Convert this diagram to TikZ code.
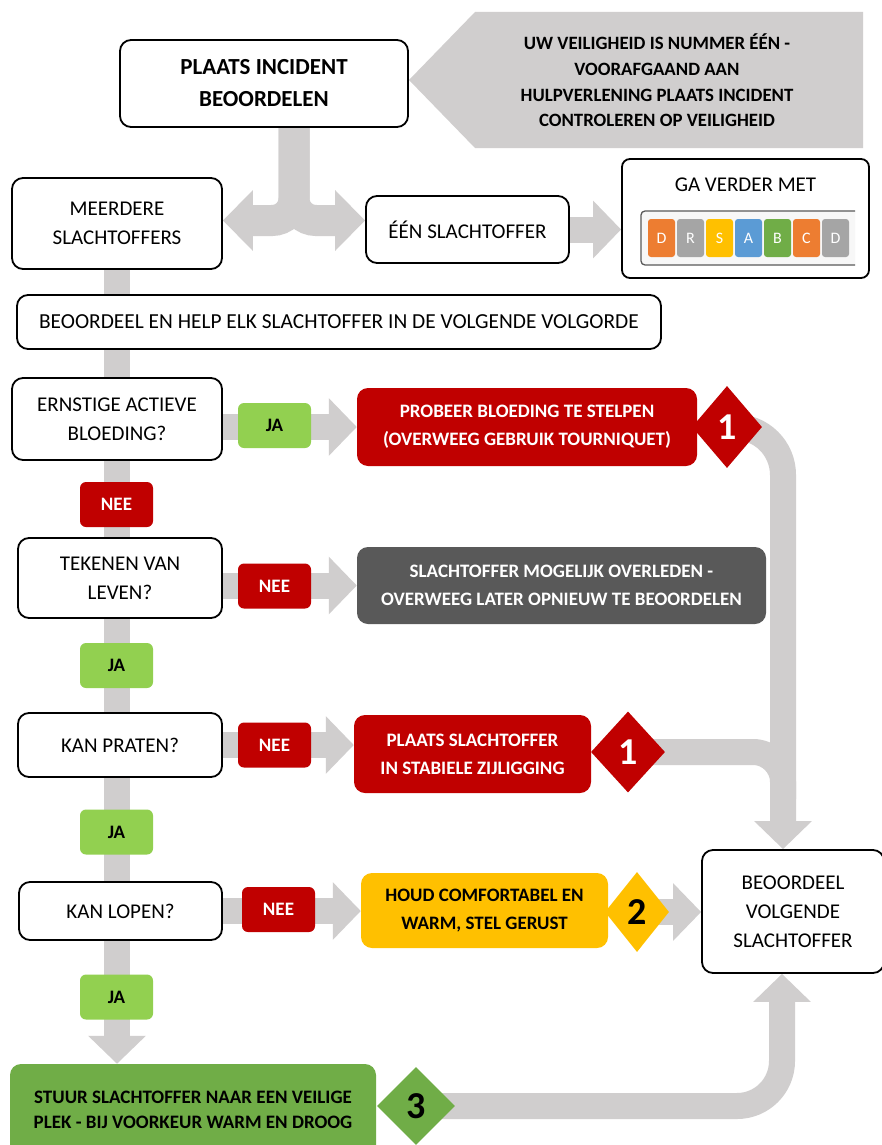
\documentclass[tikz,border=0pt]{standalone}
\usepackage{fontspec}
\setmainfont{Carlito}
\usetikzlibrary{shapes.geometric,arrows.meta,backgrounds,calc}
\definecolor{conncol}{RGB}{208,206,206}
\definecolor{cred}{RGB}{192,0,0}
\definecolor{cjagreen}{RGB}{146,208,80}
\definecolor{cdark}{RGB}{89,89,89}
\definecolor{cye}{RGB}{255,192,0}
\definecolor{cgn}{RGB}{112,173,71}
\definecolor{cor}{RGB}{237,125,49}
\definecolor{cgr}{RGB}{165,165,165}
\definecolor{cbl}{RGB}{91,155,213}
\newcommand\fnreg{\fontsize{21}{29}\selectfont}
\newcommand\fnbld{\fontsize{19}{28}\selectfont\bfseries}
\newcommand\fnttl{\fontsize{23}{32}\selectfont\bfseries}
\newcommand\fnnum{\fontsize{38}{40}\selectfont\bfseries}
\newcommand\fnwrn{\fontsize{18.8}{25.7}\selectfont\bfseries}
\newcommand\fntile{\fontsize{16}{18}\selectfont}
\begin{document}
\begin{tikzpicture}[x=1pt,y=-1pt,
  box/.style={draw=black,line width=1.8pt,rounded corners=11pt,fill=white,align=center,inner sep=0pt,font=\fnreg},
  act/.style={rounded corners=11pt,align=center,inner sep=0pt,font=\fnbld},
  badge/.style={rounded corners=6pt,minimum width=73pt,minimum height=45pt,inner sep=0pt,font=\fnbld},
  dia/.style={diamond,inner sep=0pt,minimum width=70pt,minimum height=82pt,font=\fnnum},
  conn/.style={draw=conncol,line width=26pt},
  arrowed/.style={-{Triangle[width=56pt,length=28pt]}},
  bigarrowed/.style={-{Triangle[width=59pt,length=30pt]}},
  tile/.style={rounded corners=3pt,minimum width=27pt,minimum height=38pt,inner sep=0pt,text=white,font=\fntile}
]
\useasboundingbox (0,0) rectangle (881,1145);

% top part
\node[box,font=\fnttl,minimum width=288pt,minimum height=87pt] (plaats) at (264,83.5) {PLAATS INCIDENT\\BEOORDELEN};
\fill[conncol] (409,80) -- (475,12) -- (863,12) -- (863,148) -- (475,148) -- cycle;
\node[font=\fnwrn,align=center] (warn) at (657,80.5) {UW VEILIGHEID IS NUMMER ÉÉN -\\VOORAFGAAND AAN\\HULPVERLENING PLAATS INCIDENT\\CONTROLEREN OP VEILIGHEID};
\node[box,minimum width=210pt,minimum height=91pt] (meerdere) at (117,223.5) {MEERDERE\\SLACHTOFFERS};
\node[box,minimum width=203pt,minimum height=67pt] (een) at (467.5,229.5) {ÉÉN SLACHTOFFER};
\node[box,rounded corners=8pt,minimum width=247pt,minimum height=119pt] (ga) at (745.5,218.5) {};
\node[font=\fnreg] (gatext) at (745.5,185) {GA VERDER MET};
\draw[draw=black!65,line width=1.3pt,fill=black!3,rounded corners=4pt] (855,211) -- (641,211) -- (641,265) -- (855,265);
\foreach \i/\l/\c in {1/D/cor,2/R/cgr,3/S/cye,4/A/cbl,5/B/cgn,6/C/cor,7/D/cgr}
  \node[tile,fill=\c] (t\i) at ({632.5+29*\i},238) {\l};

\node[box,minimum width=644pt,minimum height=54pt,font=\fontsize{21.4}{29}\selectfont] (help) at (339,322) {BEOORDEEL EN HELP ELK SLACHTOFFER IN DE VOLGENDE VOLGORDE};

% questions
\node[box,minimum width=210pt,minimum height=82pt] (q1) at (117,419) {ERNSTIGE ACTIEVE\\BLOEDING?};
\node[box,minimum width=204pt,minimum height=80pt] (q2) at (120,578) {TEKENEN VAN\\LEVEN?};
\node[box,minimum width=204pt,minimum height=64pt] (q3) at (120,745) {KAN PRATEN?};
\node[box,minimum width=203pt,minimum height=58pt] (q4) at (120.5,911) {KAN LOPEN?};

% actions
\node[act,fill=cred,text=white,minimum width=340pt,minimum height=78pt] (a1) at (527,427) {PROBEER BLOEDING TE STELPEN\\(OVERWEEG GEBRUIK TOURNIQUET)};
\node[act,fill=cdark,text=white,minimum width=409pt,minimum height=77pt] (a2) at (561.5,585.5) {SLACHTOFFER MOGELIJK OVERLEDEN -\\OVERWEEG LATER OPNIEUW TE BEOORDELEN};
\node[act,fill=cred,text=white,minimum width=237pt,minimum height=78pt] (a3) at (472.5,754) {PLAATS SLACHTOFFER\\IN STABIELE ZIJLIGGING};
\node[act,fill=cye,text=black,minimum width=247pt,minimum height=75pt] (a4) at (484.5,910.5) {HOUD COMFORTABEL EN\\WARM, STEL GERUST};
\node[act,fill=cgn,text=black,minimum width=366pt,minimum height=92pt,font=\fontsize{19}{25}\selectfont\bfseries] (a5) at (193,1110) {STUUR SLACHTOFFER NAAR EEN VEILIGE\\PLEK - BIJ VOORKEUR WARM EN DROOG};

\node[box,minimum width=182pt,minimum height=123pt] (next) at (793,911.5) {BEOORDEEL\\VOLGENDE\\SLACHTOFFER};

% diamonds
\node[dia,fill=cred,text=white] (d1) at (727,427) {1};
\node[dia,fill=cred,text=white,minimum width=74pt,minimum height=81pt] (d2) at (628,752) {1};
\node[dia,fill=cye,text=black,minimum width=64pt,minimum height=80pt] (d3) at (637,912) {2};
\node[dia,fill=cgn,text=black,minimum width=78pt,minimum height=78pt] (d4) at (416,1106) {3};

% badges
\node[badge,fill=cjagreen] (ja1) at (274.5,425.5) {JA};
\node[badge,fill=cred,text=white] (nee1) at (116.5,504.5) {NEE};
\node[badge,fill=cred,text=white] (nee2) at (274.5,586) {NEE};
\node[badge,fill=cjagreen] (ja2) at (116.5,665.5) {JA};
\node[badge,fill=cred,text=white] (nee3) at (274.5,745) {NEE};
\node[badge,fill=cjagreen] (ja3) at (116.5,832) {JA};
\node[badge,fill=cred,text=white] (nee4) at (278.5,909.5) {NEE};
\node[badge,fill=cjagreen] (ja4) at (116.5,997) {JA};

\coordinate (vtop) at ([xshift=-10pt]next.north);
\coordinate (vbot) at ([xshift=-11pt]next.south);
\coordinate (split) at ([xshift=30pt]plaats.south);
\coordinate (army) at ([yshift=3pt]meerdere.east);

\begin{scope}[on background layer]
  \fill[white] (0,0) rectangle (881,1145);
  \draw[conn,line width=31pt,bigarrowed,rounded corners=22pt] (split) |- (army);
  \draw[conn,line width=31pt,bigarrowed,rounded corners=22pt] (split) |- (army -| een.west);
  \draw[conn,arrowed] (een.east) -- (een.east -| ga.west);
  \draw[conn,arrowed] (meerdere.south) -- (a5.north -| meerdere.south);
  \draw[conn,arrowed] (q1.east |- a1.west) -- (a1.west);
  \draw[conn,arrowed] (q2.east |- a2.west) -- (a2.west);
  \draw[conn,arrowed] (q3.east) -- (q3.east -| a3.west);
  \draw[conn,arrowed] (q4.east) -- (q4.east -| a4.west);
  \draw[conn,arrowed,rounded corners=48pt] (d1.center) -| (vtop);
  \draw[conn,rounded corners=30pt] (d2.center) -| ([yshift=50pt]vtop);
  \draw[conn,arrowed] (d3.center) -- (d3.center -| next.west);
  \draw[conn,arrowed,rounded corners=45pt] (d4.center) -| (vbot);
\end{scope}
\end{tikzpicture}
\end{document}
